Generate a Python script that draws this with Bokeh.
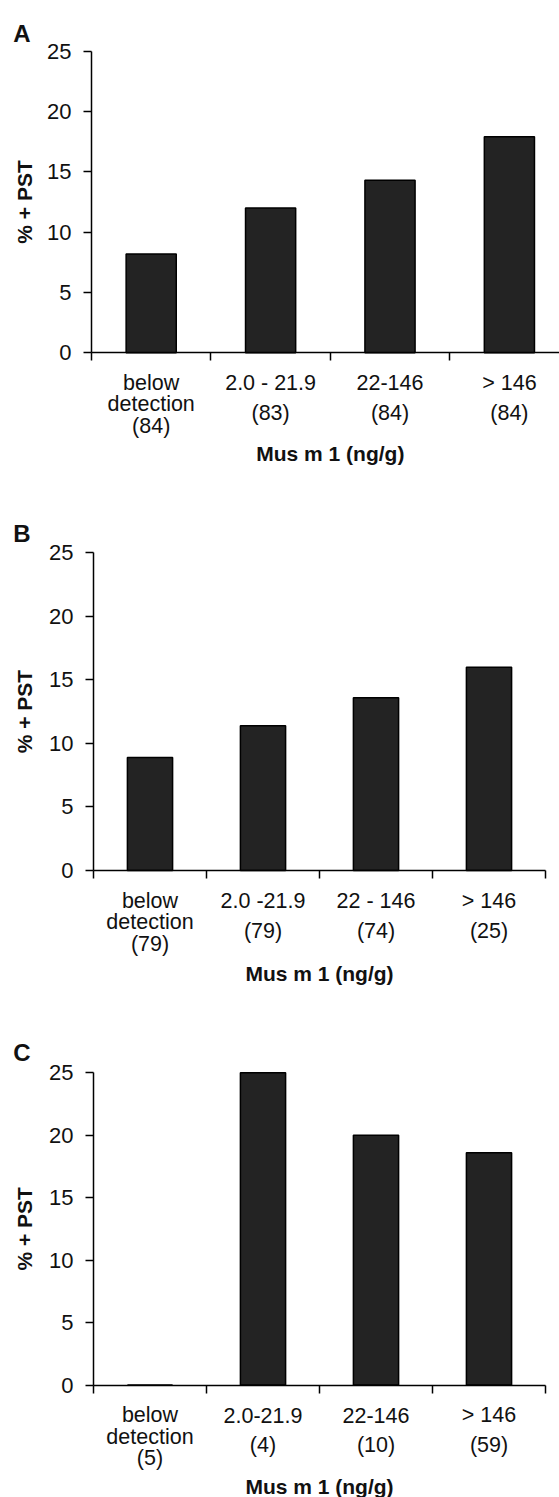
import math
from bokeh.plotting import figure
from bokeh.layouts import column
from bokeh.models import (Range1d, FixedTicker, ColumnDataSource, LabelSet, Label,
                          CustomJSTickFormatter)
from bokeh.core.properties import value
from bokeh.embed import file_html
from bokeh.resources import INLINE

FONT = "Liberation Sans"
INK = "#111111"

# ---------------- data ----------------
cats_a = ["below\ndetection", "2.0 - 21.9", "22-146", "> 146"]
n_a = [84, 83, 84, 84]
pst_a = [8.2, 12.0, 14.3, 17.9]

cats_b = ["below\ndetection", "2.0 -21.9", "22 - 146", "> 146"]
n_b = [79, 79, 74, 25]
pst_b = [8.9, 11.4, 13.6, 16.0]

cats_c = ["below\ndetection", "2.0-21.9", "22-146", "> 146"]
n_c = [5, 4, 10, 59]
pst_c = [0.0, 25.0, 20.0, 18.6]

y_ticks = [0, 5, 10, 15, 20, 25]
y_max = 25
x_title = "Mus m 1 (ng/g)"
y_title = "% + PST"

# line offsets (px below the x axis) for 2- and 3-line category labels
LINE_OFFS = {2: [-30, -60], 3: [-30, -51.5, -73]}


def make_panel(letter, cats, counts, vals, *, width, height, ax_x, cat_px,
               y25_px, y0_px, bar_w, ytitle_x, letter_x, letter_base, title_dy):
    """ax_x: pixel x of the y axis; y25_px / y0_px: pixel rows of 25 and 0."""
    k = (y0_px - y25_px) / y_max          # px per unit
    y_top = y_max + y25_px / k
    y_bot = -(height - y0_px) / k
    x_start = -ax_x / cat_px
    x_end = (width - ax_x) / cat_px
    p = figure(width=width, height=height, x_range=Range1d(x_start, x_end),
               y_range=Range1d(y_bot, y_top), output_backend="svg",
               toolbar_location=None, tools="", title=None,
               min_border_left=0, min_border_right=0,
               min_border_top=0, min_border_bottom=0)
    p.outline_line_color = None
    p.xgrid.visible = False
    p.ygrid.visible = False
    p.background_fill_color = "white"
    p.border_fill_color = "white"

    n = len(cats)
    xs = [i + 0.5 for i in range(n)]
    src = ColumnDataSource(dict(x=xs, top=vals))
    p.vbar(x="x", top="top", bottom=0, width=bar_w, source=src,
           fill_color="#232323", line_color="#000000", line_width=1.5)

    ya = p.yaxis[0]
    ya.fixed_location = 0
    ya.bounds = (0, y_max)
    ya.ticker = FixedTicker(ticks=y_ticks)
    ya.major_label_text_font = FONT
    ya.major_label_text_font_size = "22px"
    ya.major_label_text_color = INK
    ya.major_tick_out = 8
    ya.major_tick_in = 0
    ya.minor_tick_out = 0
    ya.minor_tick_in = 0
    ya.axis_line_width = 1.5
    ya.major_tick_line_width = 1.5
    ya.major_label_standoff = 12

    xa = p.xaxis[0]
    xa.fixed_location = 0
    xa.bounds = (0, n)
    xa.ticker = FixedTicker(ticks=list(range(n + 1)))
    xa.formatter = CustomJSTickFormatter(code="return ''")
    xa.major_tick_out = 8
    xa.major_tick_in = 0
    xa.minor_tick_out = 0
    xa.minor_tick_in = 0
    xa.axis_line_width = 1.5
    xa.major_tick_line_width = 1.5
    xa.major_label_standoff = 0

    # category labels
    lx, ly, lt, ld = [], [], [], []
    for i, (c, cnt) in enumerate(zip(cats, counts)):
        lines = c.split("\n") + [f"({cnt})"]
        for t, o in zip(lines, LINE_OFFS[len(lines)]):
            lx.append(xs[i])
            ly.append(0)
            lt.append(t)
            ld.append(o)
    lsrc = ColumnDataSource(dict(x=lx, y=ly, text=lt, dy=ld))
    p.add_layout(LabelSet(x="x", y="y", text="text", y_offset="dy", source=lsrc,
                          text_align="center", text_baseline="middle",
                          text_font=value(FONT), text_font_size="21.5px",
                          text_color=INK))

    # x title
    p.add_layout(Label(x=n / 2, y=0, y_offset=title_dy, text=x_title,
                       text_align="center", text_baseline="middle",
                       text_font=FONT, text_font_style="bold",
                       text_font_size="21px", text_color=INK))
    # y title, centred on the 0..25 axis
    p.add_layout(Label(x=0, y=y_max / 2, x_offset=ytitle_x - ax_x,
                       angle=math.pi / 2, text=y_title,
                       text_align="center", text_baseline="middle",
                       text_font=FONT, text_font_style="bold",
                       text_font_size="21px", text_color=INK))
    # panel letter
    p.add_layout(Label(x=0, y=y_max, x_offset=letter_x - ax_x,
                       y_offset=y25_px - letter_base, text=letter,
                       text_align="left", text_baseline="alphabetic",
                       text_font=FONT, text_font_style="bold",
                       text_font_size="24px", text_color=INK))
    return p


pa = make_panel("A", cats_a, n_a, pst_a, width=559, height=488, ax_x=91,
                cat_px=119.4, y25_px=50.7, y0_px=352.3, bar_w=0.42,
                ytitle_x=24, letter_x=12.7, letter_base=33.3, title_dy=-101)
pb = make_panel("B", cats_b, n_b, pst_b, width=559, height=516, ax_x=93,
                cat_px=113, y25_px=64.3, y0_px=382, bar_w=0.40,
                ytitle_x=23.5, letter_x=12.7, letter_base=45.3, title_dy=-103)
pc = make_panel("C", cats_c, n_c, pst_c, width=559, height=493, ax_x=93,
                cat_px=113, y25_px=68.3, y0_px=380.5, bar_w=0.40,
                ytitle_x=23.5, letter_x=12.7, letter_base=47.7, title_dy=-101)

layout = column(pa, pb, pc)
open("out.html", "w").write(file_html(layout, INLINE))
